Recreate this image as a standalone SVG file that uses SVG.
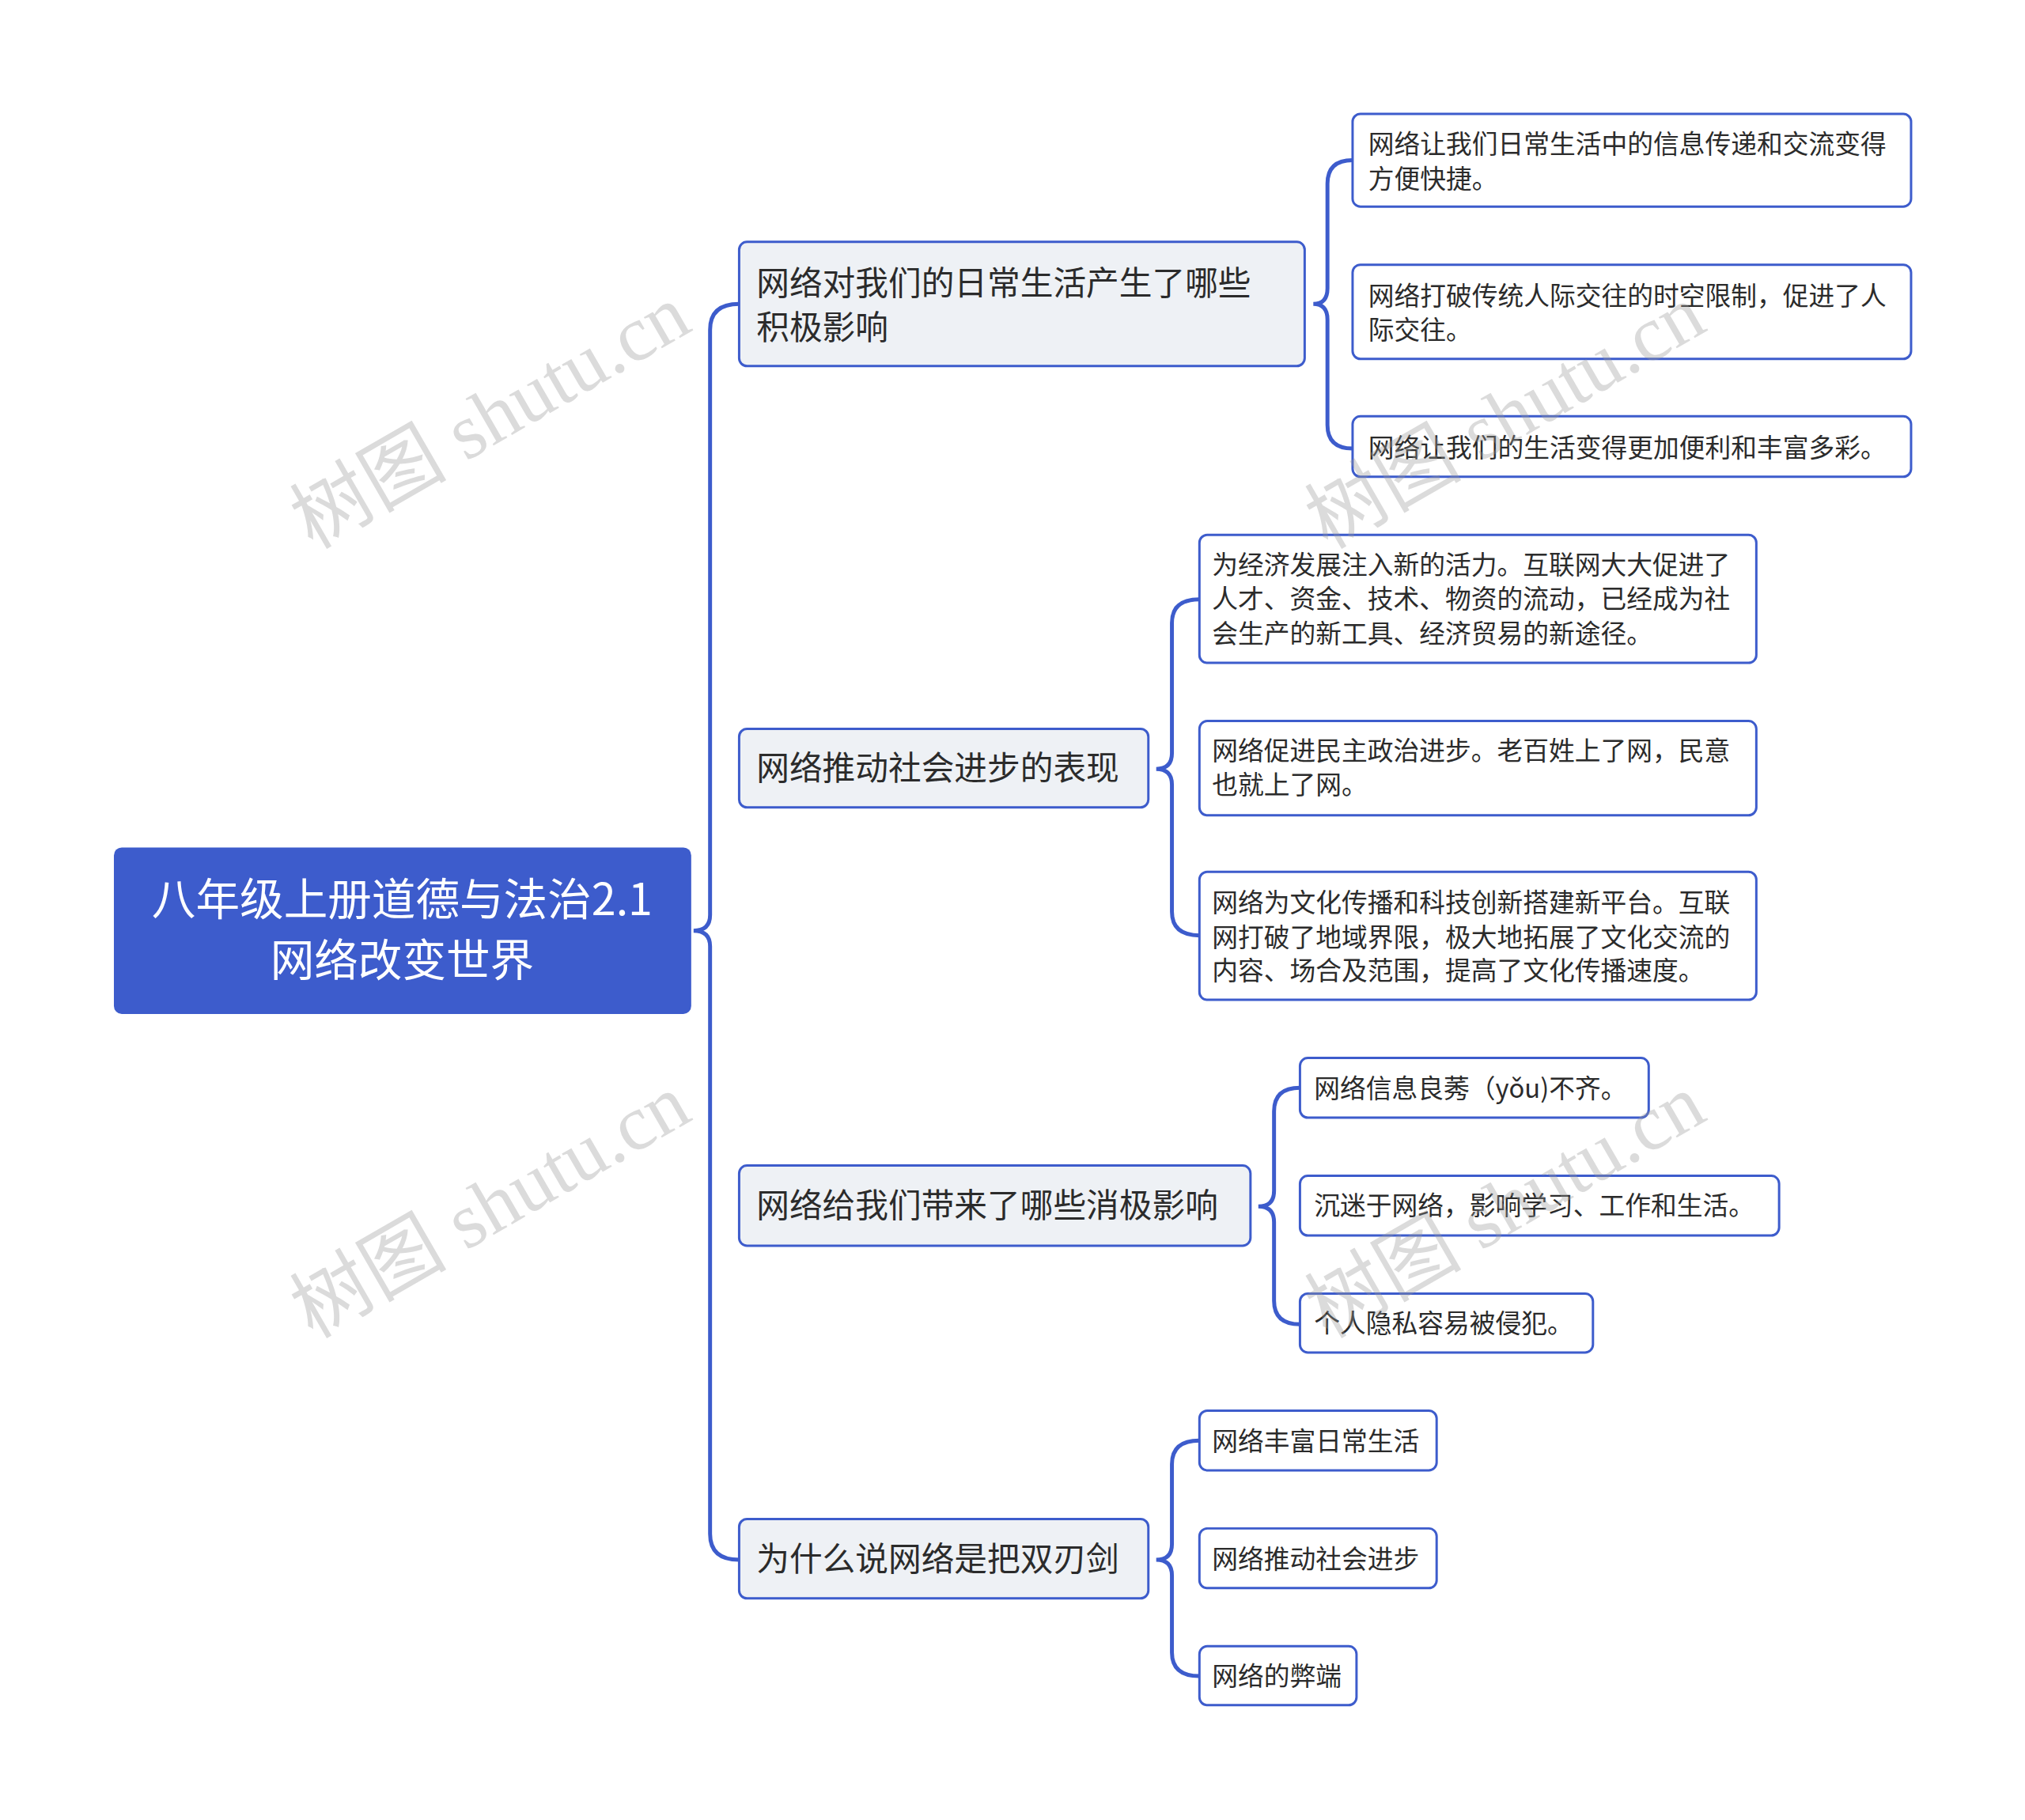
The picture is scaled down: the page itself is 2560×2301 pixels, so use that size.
<svg xmlns="http://www.w3.org/2000/svg" width="2560" height="2301" viewBox="0 0 2560 2301">
<style>
text{font-family:"Noto Sans CJK SC","Noto Sans",sans-serif;fill:#2b2b2b}
.root rect{fill:#3d5ccc}
.root text{fill:#fff;font-size:56px}
.l1 rect{fill:#eef1f5;stroke:#3d5ccc;stroke-width:3}
.l1 text{font-size:42px}
.l2 rect{fill:#fff;stroke:#3d5ccc;stroke-width:3}
.l2 text{font-size:33px}
.c path{fill:none;stroke:#3d5ccc;stroke-width:5}
.wm{font-family:"Liberation Serif","Noto Sans CJK SC",serif;font-size:100px;fill:#999;opacity:0.35}
</style>
<rect width="2560" height="2301" fill="#fff"/>
<g transform="scale(0.993)">
<g class="c">
<path d="M941,387 Q904,387 904,420 L904,1165 Q904,1185 883,1185 Q904,1185 904,1205 L904,1953 Q904,1986 941,1986"/>
<path d="M1722,204 Q1690,204 1690,234 L1690,367 Q1690,387 1672,387 Q1690,387 1690,407 L1690,541 Q1690,571 1722,571"/>
<path d="M1527,763 Q1492,763 1492,793 L1492,959 Q1492,979 1472,979 Q1492,979 1492,999 L1492,1161 Q1492,1191 1527,1191"/>
<path d="M1655,1385 Q1622,1385 1622,1415 L1622,1516 Q1622,1536 1602,1536 Q1622,1536 1622,1556 L1622,1656 Q1622,1686 1655,1686"/>
<path d="M1527,1834 Q1492,1834 1492,1864 L1492,1966 Q1492,1986 1472,1986 Q1492,1986 1492,2006 L1492,2104 Q1492,2134 1527,2134"/>
</g>
<g id="root" class="root"><rect x="145" y="1079" width="735" height="212" rx="10"/>
<text x="512" y="1165" text-anchor="middle">八年级上册道德与法治2.1</text><text x="512" y="1243" text-anchor="middle">网络改变世界</text></g>
<g id="n1" class="l1"><rect x="941" y="308" width="720" height="158" rx="10"/><text x="963" y="376">网络对我们的日常生活产生了哪些</text><text x="963" y="432">积极影响</text></g>
<g id="n2" class="l1"><rect x="941" y="928" width="521" height="100" rx="10"/><text x="963" y="993">网络推动社会进步的表现</text></g>
<g id="n3" class="l1"><rect x="941" y="1484" width="651" height="102" rx="10"/><text x="963" y="1550">网络给我们带来了哪些消极影响</text></g>
<g id="n4" class="l1"><rect x="941" y="1934" width="521" height="101" rx="10"/><text x="963" y="2000">为什么说网络是把双刃剑</text></g>
<g id="a1" class="l2"><rect x="1722" y="145" width="711" height="118" rx="10"/><text x="1742" y="195">网络让我们日常生活中的信息传递和交流变得</text><text x="1742" y="240">方便快捷。</text></g>
<g id="a2" class="l2"><rect x="1722" y="337" width="711" height="120" rx="10"/><text x="1742" y="389">网络打破传统人际交往的时空限制，促进了人</text><text x="1742" y="432">际交往。</text></g>
<g id="a3" class="l2"><rect x="1722" y="530" width="711" height="77" rx="10"/><text x="1742" y="582">网络让我们的生活变得更加便利和丰富多彩。</text></g>
<g id="b1" class="l2"><rect x="1527" y="681" width="709" height="163" rx="10"/><text x="1543" y="731">为经济发展注入新的活力。互联网大大促进了</text><text x="1543" y="774">人才、资金、技术、物资的流动，已经成为社</text><text x="1543" y="819">会生产的新工具、经济贸易的新途径。</text></g>
<g id="b2" class="l2"><rect x="1527" y="918" width="709" height="120" rx="10"/><text x="1543" y="968">网络促进民主政治进步。老百姓上了网，民意</text><text x="1543" y="1011">也就上了网。</text></g>
<g id="b3" class="l2"><rect x="1527" y="1110" width="709" height="163" rx="10"/><text x="1543" y="1161">网络为文化传播和科技创新搭建新平台。互联</text><text x="1543" y="1205">网打破了地域界限，极大地拓展了文化交流的</text><text x="1543" y="1248">内容、场合及范围，提高了文化传播速度。</text></g>
<g id="c1" class="l2"><rect x="1655" y="1347" width="444" height="76" rx="10"/><text x="1673" y="1398">网络信息良莠（yǒu)不齐。</text></g>
<g id="c2" class="l2"><rect x="1655" y="1497" width="610" height="76" rx="10"/><text x="1673" y="1547">沉迷于网络，影响学习、工作和生活。</text></g>
<g id="c3" class="l2"><rect x="1655" y="1647" width="373" height="75" rx="10"/><text x="1673" y="1697">个人隐私容易被侵犯。</text></g>
<g id="d1" class="l2"><rect x="1527" y="1796" width="302" height="76" rx="10"/><text x="1543" y="1847">网络丰富日常生活</text></g>
<g id="d2" class="l2"><rect x="1527" y="1946" width="302" height="76" rx="10"/><text x="1543" y="1997">网络推动社会进步</text></g>
<g id="d3" class="l2"><rect x="1527" y="2096" width="200" height="75" rx="10"/><text x="1543" y="2146">网络的弊端</text></g>
<g>
<text class="wm" transform="translate(641,560) rotate(-30)" text-anchor="middle">树图 shutu.cn</text>
<text class="wm" transform="translate(641,1565) rotate(-30)" text-anchor="middle">树图 shutu.cn</text>
<text class="wm" transform="translate(1933,560) rotate(-30)" text-anchor="middle">树图 shutu.cn</text>
<text class="wm" transform="translate(1933,1565) rotate(-30)" text-anchor="middle">树图 shutu.cn</text>
</g>
</g>
</svg>
